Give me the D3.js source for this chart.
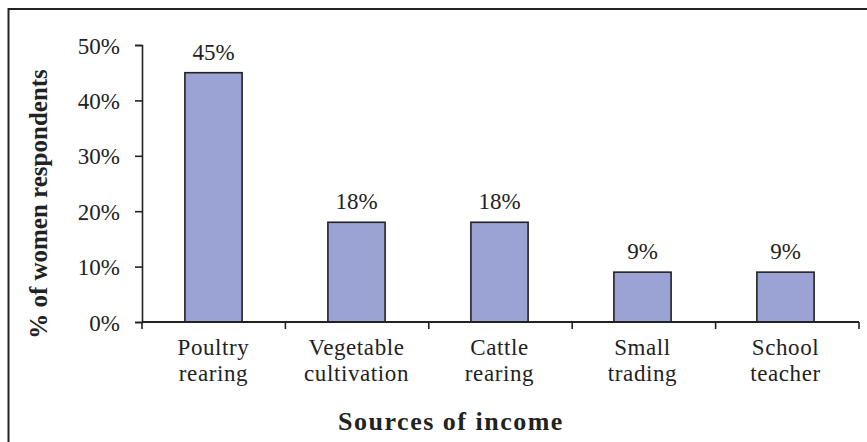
<!DOCTYPE html>
<html>
<head>
<meta charset="utf-8">
<script src="https://cdn.jsdelivr.net/npm/d3@7"></script>
<style>
  body { margin: 0; background: #fff; }
</style>
</head>
<body>
<div id="chart"></div>
<script>
// Data
var categories = [['Poultry', 'rearing'], ['Vegetable', 'cultivation'], ['Cattle', 'rearing'], ['Small', 'trading'], ['School', 'teacher']]
var shares = [45, 18, 18, 9, 9]
var yTicks = [0, 10, 20, 30, 40, 50]

var serif = "'Liberation Serif', 'DejaVu Serif', serif"
var ink = '#222'

var svgWidth = 867
var svgHeight = 442
var margin = { top: 45, left: 142, right: 8, bottom: 120 }
var width = svgWidth - margin.left - margin.right
var height = svgHeight - margin.top - margin.bottom

var svg = d3.select('#chart')
  .append('svg')
  .attr('width', svgWidth)
  .attr('height', svgHeight)
  .attr('font-family', serif)

// frame (only top and left edges fall inside the picture)
svg.append('rect')
  .attr('x', 8.5)
  .attr('y', 9)
  .attr('width', svgWidth + 20)
  .attr('height', svgHeight + 20)
  .attr('fill', 'none')
  .attr('stroke', ink)
  .attr('stroke-width', 2)

var g = svg.append('g')
  .attr('transform', 'translate(' + margin.left + ',' + margin.top + ')')

var labels = categories.map(d => d.join(' '))

var xPositionScale = d3.scaleBand()
  .domain(labels)
  .range([0, width - 2])
  .paddingInner(0.6)
  .paddingOuter(0.3)

var yPositionScale = d3.scaleLinear()
  .domain([0, 50])
  .range([height, 0])

// bars
g.selectAll('.bar')
  .data(shares)
  .enter()
  .append('rect')
  .attr('class', 'bar')
  .attr('x', (d, i) => xPositionScale(labels[i]))
  .attr('y', d => yPositionScale(d))
  .attr('width', xPositionScale.bandwidth())
  .attr('height', d => height - yPositionScale(d))
  .attr('fill', '#9aa3d3')
  .attr('stroke', ink)
  .attr('stroke-width', 1.6)

// value labels
g.selectAll('.value-label')
  .data(shares)
  .enter()
  .append('text')
  .attr('class', 'value-label')
  .attr('x', (d, i) => xPositionScale(labels[i]) + xPositionScale.bandwidth() / 2)
  .attr('y', d => yPositionScale(d) - 13)
  .attr('text-anchor', 'middle')
  .attr('font-family', serif)
  .attr('font-size', 23)
  .attr('fill', ink)
  .text(d => d + '%')

// y axis
var yAxis = d3.axisLeft(yPositionScale)
  .tickValues(yTicks)
  .tickSize(7)
  .tickPadding(15)
  .tickFormat(d => d + '%')
g.append('g')
  .attr('class', 'axis y-axis')
  .call(yAxis)
  .attr('font-family', serif)
  .attr('font-size', 23)
  .call(a => a.selectAll('text').attr('fill', ink).attr('dy', '0.35em'))
  .call(a => a.selectAll('line, path').attr('stroke', ink).attr('stroke-width', 1.6))

// x axis line with ticks between categories
var boundaries = d3.range(categories.length + 1).map(i => i * width / categories.length)
var xAxisG = g.append('g')
  .attr('class', 'axis x-axis')
  .attr('transform', 'translate(0,' + height + ')')
xAxisG.append('line')
  .attr('x1', 0)
  .attr('x2', width)
  .attr('stroke', ink)
  .attr('stroke-width', 2)
xAxisG.selectAll('.tick-mark')
  .data(boundaries)
  .enter()
  .append('line')
  .attr('x1', d => d)
  .attr('x2', d => d)
  .attr('y1', 0)
  .attr('y2', 7)
  .attr('stroke', ink)
  .attr('stroke-width', 1.6)

// category labels (two lines)
var catText = xAxisG.selectAll('.cat-label')
  .data(categories)
  .enter()
  .append('text')
  .attr('class', 'cat-label')
  .attr('text-anchor', 'middle')
  .attr('font-family', serif)
  .attr('font-size', 23)
  .attr('letter-spacing', 0.6)
  .attr('fill', ink)
  .attr('transform', (d, i) => 'translate(' + (xPositionScale(labels[i]) + xPositionScale.bandwidth() / 2) + ',0)')
catText.selectAll('tspan')
  .data(d => d)
  .enter()
  .append('tspan')
  .attr('x', 0)
  .attr('y', (d, i) => 33 + i * 26)
  .text(d => d)

// axis titles
svg.append('text')
  .attr('x', 451)
  .attr('y', 430)
  .attr('text-anchor', 'middle')
  .attr('font-family', serif)
  .attr('font-size', 26)
  .attr('letter-spacing', 1.5)
  .attr('font-weight', 'bold')
  .attr('fill', ink)
  .text('Sources of income')

svg.append('text')
  .attr('transform', 'translate(47,204) rotate(-90)')
  .attr('text-anchor', 'middle')
  .attr('font-family', serif)
  .attr('font-size', 25)
  .attr('font-weight', 'bold')
  .attr('fill', ink)
  .text('% of women respondents')
</script>
</body>
</html>
